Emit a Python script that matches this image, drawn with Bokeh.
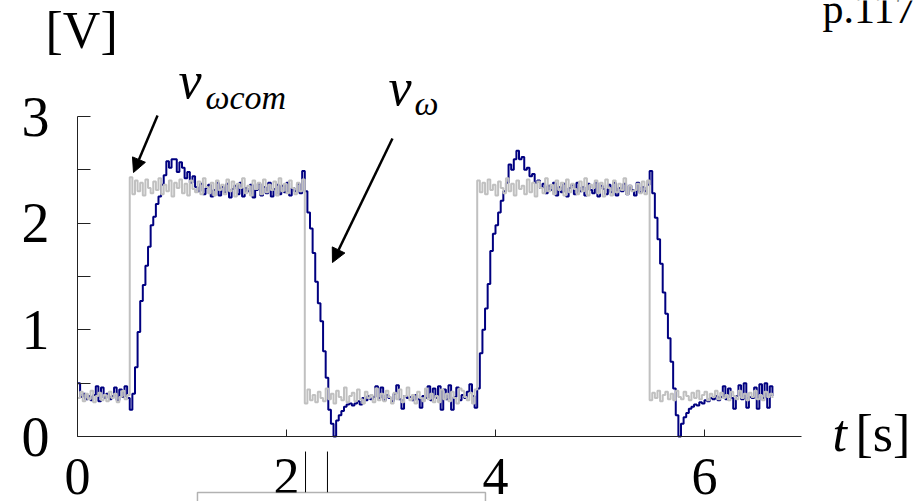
from bokeh.plotting import figure
from bokeh.models import (Range1d, LinearAxis, FixedTicker, Label, Arrow,
                          NormalHead, BoxAnnotation)
from bokeh.embed import file_html
from bokeh.resources import INLINE

# ---------------- data ----------------
T_STEP = 0.025  # sampling period [s]

# command voltage v_wcom [V] (grey)
cmd_low1 = [0.36, 0.42, 0.33, 0.40, 0.35, 0.43, 0.32, 0.38, 0.41, 0.34,
            0.39, 0.33, 0.42, 0.36, 0.40, 0.32, 0.37, 0.43, 0.35, 0.39]
cmd_high1 = [2.43, 2.27, 2.40, 2.30, 2.38, 2.26, 2.41, 2.33, 2.28, 2.39,
             2.31, 2.42, 2.27, 2.36, 2.30, 2.40, 2.25, 2.38, 2.33, 2.41,
             2.28, 2.37, 2.26, 2.40, 2.32, 2.29, 2.39, 2.27, 2.42, 2.34,
             2.28, 2.38, 2.26, 2.40, 2.31, 2.36, 2.27, 2.41, 2.30, 2.39,
             2.25, 2.37, 2.33, 2.42, 2.28, 2.35, 2.26, 2.40, 2.32, 2.38,
             2.27, 2.41, 2.29, 2.36, 2.31, 2.39, 2.26, 2.42, 2.30, 2.37,
             2.28, 2.40, 2.33, 2.27, 2.38, 2.30, 2.41]
cmd_low2 = [0.31, 0.44, 0.34, 0.39, 0.32, 0.42, 0.36, 0.33, 0.45, 0.35,
            0.40, 0.31, 0.43, 0.37, 0.34, 0.46, 0.32, 0.38, 0.41, 0.33,
            0.44, 0.35, 0.31, 0.42, 0.36, 0.39, 0.32, 0.45, 0.34, 0.40,
            0.33, 0.43, 0.37, 0.31, 0.41, 0.35, 0.44, 0.32, 0.38, 0.46,
            0.34, 0.39, 0.31, 0.42, 0.36, 0.33, 0.45, 0.35, 0.40, 0.32,
            0.38, 0.32, 0.44, 0.35, 0.40, 0.33, 0.42, 0.36, 0.31, 0.45,
            0.43, 0.37, 0.34, 0.41, 0.31, 0.44]
cmd_high2 = [2.40, 2.29, 2.38, 2.27, 2.41, 2.31, 2.36, 2.26, 2.39, 2.33,
             2.28, 2.42, 2.30, 2.37, 2.26, 2.40, 2.32, 2.35, 2.27, 2.41,
             2.29, 2.38, 2.25, 2.39, 2.33, 2.28, 2.42, 2.30, 2.36, 2.27,
             2.40, 2.31, 2.38, 2.26, 2.41, 2.29, 2.37, 2.32, 2.27, 2.39,
             2.30, 2.42, 2.26, 2.36, 2.33, 2.40, 2.28, 2.38, 2.25, 2.41,
             2.33, 2.26, 2.40, 2.29, 2.37, 2.31, 2.42, 2.27, 2.35, 2.30,
             2.31, 2.37, 2.28, 2.39, 2.27, 2.40]
cmd_low3 = [0.34, 0.41, 0.36, 0.43, 0.33, 0.39, 0.42, 0.35, 0.40, 0.34,
            0.43, 0.37, 0.35, 0.42, 0.38, 0.34, 0.41, 0.36, 0.43, 0.35,
            0.39, 0.42, 0.34, 0.40, 0.37, 0.43, 0.35, 0.41, 0.36, 0.39,
            0.34, 0.42, 0.38, 0.35, 0.43, 0.36, 0.40, 0.34, 0.41, 0.37,
            0.43, 0.35, 0.39, 0.34, 0.42, 0.37, 0.40, 0.36]

# measured voltage v_w [V] (navy)
meas_1 = [0.50, 0.37, 0.40, 0.35, 0.38, 0.34, 0.39, 0.47, 0.33, 0.46,
          0.36, 0.40, 0.35, 0.38, 0.46, 0.34, 0.44, 0.37, 0.47, 0.36]
meas_2 = [0.25, 0.40, 0.65, 0.98, 1.27, 1.42, 1.60, 1.78, 1.98, 2.06,
          2.18, 2.25, 2.36, 2.45, 2.58, 2.52, 2.60, 2.60, 2.48, 2.57,
          2.52, 2.42, 2.48, 2.38, 2.44, 2.34, 2.30, 2.37, 2.27, 2.33,
          2.36, 2.25, 2.31, 2.38, 2.26, 2.34, 2.29, 2.37, 2.24, 2.32,
          2.35, 2.27, 2.38, 2.25, 2.33, 2.30, 2.36, 2.24, 2.31, 2.37,
          2.26, 2.34, 2.28, 2.38, 2.25, 2.32, 2.36, 2.27, 2.35, 2.29,
          2.38, 2.26, 2.33, 2.30, 2.37, 2.28, 2.49]
meas_3 = [2.30, 2.10, 1.95, 1.72, 1.45, 1.25, 1.08, 0.80, 0.55, 0.25,
          0.12, 0.00, 0.15, 0.20, 0.24, 0.28, 0.30, 0.31, 0.29, 0.31,
          0.33, 0.30, 0.36, 0.34, 0.38, 0.35, 0.37, 0.47, 0.36, 0.46,
          0.34, 0.39, 0.36, 0.33, 0.40, 0.48, 0.35, 0.26, 0.38, 0.36,
          0.37, 0.34, 0.39, 0.35, 0.27, 0.38, 0.36, 0.47, 0.34, 0.45,
          0.36, 0.47, 0.25, 0.44, 0.35, 0.48, 0.25, 0.37, 0.46, 0.34,
          0.39, 0.36, 0.42, 0.49, 0.38, 0.27]
meas_4 = [0.45, 0.78, 1.00, 1.20, 1.43, 1.74, 1.90, 1.98, 2.10, 2.21,
          2.30, 2.38, 2.55, 2.50, 2.60, 2.68, 2.60, 2.62, 2.50, 2.52,
          2.44, 2.46, 2.38, 2.40, 2.33, 2.37, 2.28, 2.35, 2.31, 2.38,
          2.26, 2.34, 2.29, 2.37, 2.25, 2.33, 2.36, 2.27, 2.38, 2.30,
          2.34, 2.26, 2.37, 2.31, 2.28, 2.38, 2.25, 2.35, 2.32, 2.27,
          2.36, 2.29, 2.38, 2.26, 2.33, 2.30, 2.37, 2.27, 2.35, 2.31,
          2.26, 2.38, 2.29, 2.34, 2.30, 2.36]
meas_5 = [2.49, 2.28, 2.05, 1.85, 1.62, 1.35, 1.15, 0.92, 0.70, 0.45,
          0.20, 0.00, 0.12, 0.18, 0.22, 0.26, 0.28, 0.30, 0.29, 0.32,
          0.31, 0.34, 0.33, 0.36, 0.35, 0.38, 0.34, 0.37, 0.47, 0.35,
          0.45, 0.36, 0.26, 0.38, 0.48, 0.35, 0.50, 0.27, 0.37, 0.36,
          0.46, 0.26, 0.49, 0.36, 0.50, 0.27, 0.47, 0.38]

X_TICKS = [0, 2, 4, 6]
Y_TICKS = [0, 1, 2, 3]
Y_MINOR = [0.5, 1.5, 2.5]

v_cmd = cmd_low1 + cmd_high1 + cmd_low2 + cmd_high2 + cmd_low3
v_meas = meas_1 + meas_2 + meas_3 + meas_4 + meas_5
t = [round(i * T_STEP, 4) for i in range(len(v_meas))]

# ---------------- figure ----------------
SERIF = "Liberation Serif"
p = figure(width=921, height=501, output_backend="svg", toolbar_location=None,
           x_range=Range1d(-0.73684, 8.07656), y_range=Range1d(-0.60937, 4.0875),
           x_axis_type=None, y_axis_type=None, min_border=0,
           outline_line_color=None, background_fill_color="white")

xaxis = LinearAxis(fixed_location=0, bounds=(0, 6.93),
                   ticker=FixedTicker(ticks=X_TICKS),
                   major_tick_in=7, major_tick_out=0,
                   minor_tick_in=0, minor_tick_out=0,
                   axis_line_color="#222222", axis_line_width=1,
                   major_tick_line_color="#222222",
                   major_label_text_font=SERIF,
                   major_label_text_font_size="52px",
                   major_label_text_color="black",
                   major_label_standoff=22)
p.add_layout(xaxis, "below")

yaxis = LinearAxis(fixed_location=0, bounds=(0, 3),
                   ticker=FixedTicker(ticks=Y_TICKS, minor_ticks=Y_MINOR),
                   major_tick_in=13, major_tick_out=0,
                   minor_tick_in=13, minor_tick_out=0,
                   axis_line_color="#222222", axis_line_width=1,
                   major_tick_line_color="#222222",
                   minor_tick_line_color="#222222",
                   major_label_text_font=SERIF,
                   major_label_text_font_size="56px",
                   major_label_text_color="black",
                   major_label_standoff=28)
p.add_layout(yaxis, "left")

p.step(t, v_meas, mode="after", line_color="#000080", line_width=2)
p.step(t, v_cmd, mode="after", line_color="#c0c0c0", line_width=2)

# ---------------- texts ----------------
def lab(x, y, text, size, style="normal"):
    p.add_layout(Label(x=x, y=y, text=text, text_font=SERIF,
                       text_font_size=size, text_font_style=style,
                       text_color="black", text_baseline="alphabetic",
                       text_align="left"))

lab(-0.306, 3.804, "[V]", "52px")
lab(7.225, 0.026, "t", "52px", "italic")
lab(7.445, 0.026, "[s]", "52px")
lab(7.129, 4.005, "p.117", "42px")
lab(0.967, 3.335, "v", "52px", "italic")
lab(1.225, 3.177, "ωcom", "34px", "italic")
lab(2.976, 3.269, "v", "52px", "italic")
lab(3.225, 3.121, "ω", "34px", "italic")

# annotation arrows
for xs, ys, xe, ye in [(0.766, 3.009, 0.536, 2.475),
                       (3.014, 2.794, 2.440, 1.631)]:
    p.add_layout(Arrow(end=NormalHead(size=14, fill_color="black",
                                      line_color="black"),
                       x_start=xs, y_start=ys, x_end=xe, y_end=ye,
                       line_color="black", line_width=2.5))

# scanned-page leftovers below the axis
p.segment(x0=[2.182, 2.392], y0=[-0.141, -0.141],
          x1=[2.182, 2.392], y1=[-0.525, -0.525],
          line_color="black", line_width=1)
p.add_layout(BoxAnnotation(left=1.148, right=3.904, top=-0.525, bottom=-0.7,
                           fill_color="white", fill_alpha=1.0,
                           line_color="black", line_width=1.5,
                           level="overlay"))

open("out.html", "w").write(file_html(p, INLINE))
